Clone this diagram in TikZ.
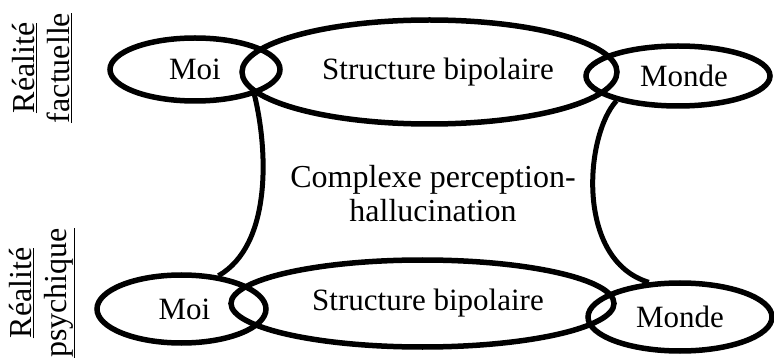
\documentclass[tikz,border=0pt]{standalone}
\usepackage{fontspec}
\setmainfont{Liberation Serif}
\usetikzlibrary{shapes.geometric}
\begin{document}
\begin{tikzpicture}[x=1pt,y=-1pt,
  oval/.style={draw,ellipse,line width=5.5pt,inner sep=0pt,font=\fontsize{31}{34}\selectfont},
  link/.style={line width=5pt},
  side/.style={rotate=90,align=center,inner sep=0pt,font=\fontsize{32}{35}\selectfont},
  mid/.style={align=center,inner sep=0pt,font=\fontsize{32}{34}\selectfont}]
\useasboundingbox (0,0) rectangle (774,358);
\clip (0,0) rectangle (774,358);
% top row
\node[oval,minimum width=170pt,minimum height=63pt] (moiT) at (195,69.5) {Moi};
\node[oval,minimum width=375pt,minimum height=104pt] (strT) at (429.5,72) {\hspace{17pt}Structure bipolaire};
\node[oval,minimum width=184pt,minimum height=60pt] (mondeT) at (678,76) {\hspace{12pt}Monde};
% bottom row
\node[oval,minimum width=169pt,minimum height=68pt] (moiB) at (181.5,309) {\hspace{6pt}Moi};
\node[oval,minimum width=383pt,minimum height=87pt] (strB) at (422.5,303.5) {\hspace{11pt}Structure bipolaire};
\node[oval,minimum width=184pt,minimum height=68pt] (mondeB) at (680,317) {Monde};
% middle text
\node[mid] (cplx) at (433,194) {Complexe perception-\\hallucination};
% side labels
\node[side] (factT) at (42,68) {\underline{Réalité}\\\underline{factuelle}};
\node[side] (psyB) at (42,293) {\underline{Réalité}\\\underline{psychique}};
% connectors
\draw[link] (moiT.-23) .. controls (268,150) and (272,245) .. (moiB.42);
\draw[link] (mondeT.202) .. controls (585,135) and (575,260) .. (mondeB.132);
\end{tikzpicture}
\end{document}
